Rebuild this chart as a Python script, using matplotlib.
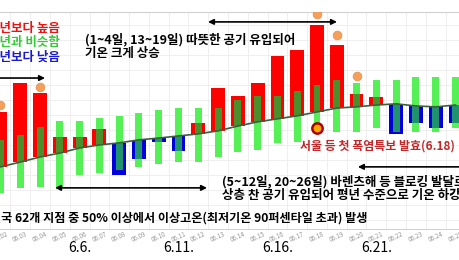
import numpy as np
import matplotlib.pyplot as plt
from matplotlib.transforms import blended_transform_factory

plt.rcParams['font.family'] = ['Noto Sans CJK KR', 'DejaVu Sans']

# June days shown (6.2 ~ 6.25)
days = list(range(2, 26))
# climatological normal (line), observed value (bar end), normal range (green bar)
normal = [20.77, 20.93, 21.10, 21.23, 21.40, 21.50, 21.57, 21.67, 21.73, 21.80, 21.87, 21.97,
          22.13, 22.27, 22.37, 22.47, 22.60, 22.73, 22.77, 22.83, 22.87, 22.80, 22.77, 22.83]
observed = [22.60, 23.57, 23.23, 21.77, 21.77, 22.03, 20.50, 21.03, 21.60, 21.30, 22.23, 23.40,
            23.13, 23.57, 24.47, 24.67, 25.50, 24.83, 23.20, 23.10, 21.87, 22.23, 22.07, 22.23]
range_top = [21.67, 21.83, 22.10, 22.30, 22.30, 22.40, 22.47, 22.57, 22.67, 22.73, 22.73, 22.73,
             23.00, 23.13, 23.13, 23.30, 23.50, 23.67, 23.57, 23.67, 23.67, 23.77, 23.77, 23.77]
range_bot = [19.90, 20.07, 20.10, 20.07, 20.50, 20.57, 20.67, 20.77, 20.87, 20.93, 20.93, 21.10,
             21.27, 21.33, 21.57, 21.60, 22.07, 21.93, 21.93, 22.07, 21.93, 21.93, 21.93, 22.07]
# days with abnormal heat at >50% of 62 stations
hot_days = [2, 4, 18, 19, 20]
hot_marks = [22.83, 23.43, 25.87, 25.17, 23.80]
# first heat advisory (Seoul, 6.18)
advisory_day = 18
advisory_mark = 22.07

tick_days = list(range(2, 26))
tick_labels = ['06.%02d' % d for d in tick_days]
big_labels = [6, 11, 16, 21]

fig = plt.figure(figsize=(4.6, 2.6), dpi=100)
ax = fig.add_axes([0, 31 / 260, 1, 217 / 260])

normal = np.array(normal)
observed = np.array(observed)
range_top = np.array(range_top)
range_bot = np.array(range_bot)

# normal range bars
ax.bar(days, range_top - range_bot, bottom=range_bot, width=0.35, color='#55f055', zorder=2)

# anomaly bars
colors = ['#ff0000' if o > n else '#0000dd' for o, n in zip(observed, normal)]
ax.bar(days, observed - normal, bottom=normal, width=0.7, color=colors, zorder=3)

# overlap of anomaly and normal range
lo = np.maximum(np.minimum(normal, observed), range_bot)
hi = np.minimum(np.maximum(normal, observed), range_top)
over_col = ['#4a8f2c' if o > n else '#1f936c' for o, n in zip(observed, normal)]
ax.bar(days, np.clip(hi - lo, 0, None), bottom=lo, width=0.35, color=over_col, zorder=4)

ax.plot(days, normal, color='#3d5f3d', lw=1.2, zorder=5)

ax.scatter(hot_days, hot_marks, s=40, color='#f4a05a', edgecolor='#e8904a', lw=0.5, zorder=6)
ax.scatter([advisory_day], [advisory_mark], s=55, color='#f5a800', edgecolor='#b00000', lw=1.8, zorder=7)

ax.set_xticks(tick_days)
ax.set_xticklabels(tick_labels, rotation=25, fontsize=4.5, color='#999999')
ax.set_xticks(np.arange(1.5, 26.5, 1), minor=True)
ax.set_yticks(np.arange(19.0, 26.0, 0.5))
ax.set_xlim(1.975, 25.23)
ax.set_ylim(18.7, 25.93)
ax.tick_params(axis='both', which='both', length=0, labelleft=False, pad=1)
ax.grid(axis='y', color='#ececec', lw=0.6, zorder=0)
ax.grid(axis='x', which='minor', color='#ececec', lw=0.6, zorder=0)
for s in ['left', 'right']:
    ax.spines[s].set_visible(False)
ax.spines['top'].set_color('#d0d0d0')
ax.spines['bottom'].set_color('#c8c8c8')
ax.spines['bottom'].set_linewidth(0.6)

# legend texts (cut at left)
ax.text(5.01, 25.37, '평년보다 높음', color='#f01010', fontsize=9, fontweight='bold', ha='right', va='center')
ax.text(5.01, 24.90, '평년과 비슷함', color='#33cc33', fontsize=9, fontweight='bold', ha='right', va='center')
ax.text(5.01, 24.43, '평년보다 낮음', color='#1a1ad0', fontsize=9, fontweight='bold', ha='right', va='center')

# annotations
ax.text(6.27, 25.02, '(1~4일, 13~19일) 따뜻한 공기 유입되어', fontsize=9, fontweight='bold', va='center')
ax.text(6.27, 24.55, '기온 크게 상승', fontsize=9, fontweight='bold', va='center')
arrow = dict(arrowstyle='<|-|>', color='black', lw=1.2, mutation_scale=8, shrinkA=0, shrinkB=0)
ax.annotate('', xy=(19.01, 25.6), xytext=(12.49, 25.6), arrowprops=arrow, annotation_clip=False)
ax.annotate('', xy=(4.25, 23.73), xytext=(0.96, 23.73), arrowprops=arrow, annotation_clip=False)
ax.annotate('', xy=(12.44, 20.07), xytext=(4.76, 20.07), arrowprops=arrow, annotation_clip=False)
ax.annotate('', xy=(26.3, 20.77), xytext=(20.07, 20.77), arrowprops=arrow, annotation_clip=False)

ax.text(13.2, 20.28, '(5~12일, 20~26일) 바렌츠해 등 블로킹 발달로', fontsize=9, fontweight='bold', va='center')
ax.text(13.2, 19.80, '상층 찬 공기 유입되어 평년 수준으로 기온 하강', fontsize=9, fontweight='bold', va='center')
ax.text(17.12, 21.47, '서울 등 첫 폭염특보 발효(6.18)', fontsize=8.6, fontweight='bold', color='#c0282a', va='center')
ax.text(20.53, 19.07, '전국 62개 지점 중 50% 이상에서 이상고온(최저기온 90퍼센타일 초과) 발생',
        fontsize=8.7, fontweight='bold', ha='right', va='center')

trans = blended_transform_factory(ax.transData, fig.transFigure)
for d in big_labels:
    ax.text(d, 1 - 248 / 260, '6.%d.' % d, fontsize=10, ha='center', va='center', transform=trans)

fig.savefig('out.png', dpi=100)
